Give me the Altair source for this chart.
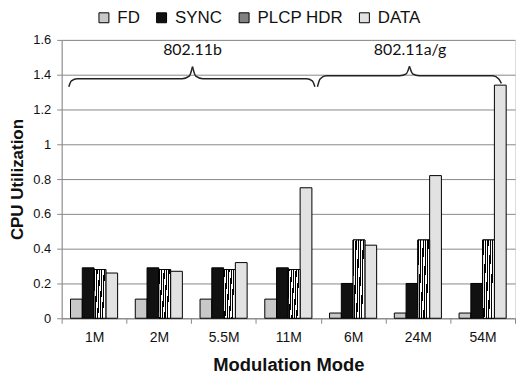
import altair as alt
import pandas as pd

modes = ["1M", "2M", "5.5M", "11M", "6M", "24M", "54M"]
series = ["FD", "SYNC", "PLCP HDR", "DATA"]
fd = [0.11, 0.11, 0.11, 0.11, 0.03, 0.03, 0.03]
sync = [0.29, 0.29, 0.29, 0.29, 0.20, 0.20, 0.20]
plcp = [0.28, 0.28, 0.28, 0.28, 0.45, 0.45, 0.45]
data_v = [0.26, 0.27, 0.32, 0.75, 0.42, 0.82, 1.34]

groups = ["802.11b", "802.11a/g"]
group_x = [2.02, 5.38]
group_y = [1.54, 1.54]

# brace outlines (x in category units 0..7, y in utilization units)
brace_x = [
    [0.11, 0.15, 0.24, 1.86, 1.97, 2.02],
    [2.02, 2.07, 2.18, 3.78, 3.87, 3.91],
    [3.95, 3.99, 4.08, 5.22, 5.32, 5.37],
    [5.37, 5.42, 5.52, 6.66, 6.75, 6.79],
]
brace_y = [
    [1.331, 1.365, 1.377, 1.377, 1.392, 1.446],
    [1.446, 1.392, 1.377, 1.377, 1.365, 1.331],
    [1.331, 1.375, 1.394, 1.394, 1.405, 1.448],
    [1.448, 1.405, 1.394, 1.394, 1.375, 1.35],
]

rows = []
for s, vals in zip(series, [fd, sync, plcp, data_v]):
    for m, v in zip(modes, vals):
        rows.append({"mode": m, "series": s, "value": v})
df = pd.DataFrame(rows)

brows = []
for i, (xs, ys) in enumerate(zip(brace_x, brace_y)):
    for j, (x, y) in enumerate(zip(xs, ys)):
        brows.append({"seg": i, "order": j, "bx": x, "by": y})
bdf = pd.DataFrame(brows)

ldf = pd.DataFrame({"label": groups, "lx": group_x, "ly": group_y})

FONT = "Liberation Sans"

yscale = alt.Scale(domain=[0, 1.6], nice=False)
yaxis = alt.Axis(title="CPU Utilization", values=[0, 0.2, 0.4, 0.6, 0.8, 1.0, 1.2, 1.4, 1.6],
                 format="~g", labelFontSize=13, labelFont=FONT, labelColor="#111",
                 titleFontSize=17, titleFont=FONT, titleFontWeight="bold",
                 titleColor="#111", tickSize=5, labelPadding=6, titlePadding=6,
                 grid=True, labelOverlap=False,
                 gridColor="#888", domainColor="#888", tickColor="#888")
xaxis = alt.Axis(title="Modulation Mode", labelAngle=0, tickBand="extent",
                 labelFontSize=14, labelFont=FONT, labelColor="#111",
                 titleFontSize=18.5, titleFont=FONT, titleFontWeight="bold",
                 titleColor="#111", labelPadding=7, tickSize=5, grid=False,
                 domainColor="#888", tickColor="#888", titlePadding=12)
xscale = alt.Scale(paddingInner=0, paddingOuter=0)


def xband():
    return alt.X("mode:N", sort=modes, scale=xscale, axis=xaxis)


def yq(field):
    return alt.Y(field, scale=yscale, axis=yaxis)


xoff = alt.XOffset("series:N", sort=series,
                   scale=alt.Scale(domain=series, paddingInner=0, paddingOuter=0.75))

bars = alt.Chart(df).mark_bar(stroke="black", strokeWidth=1).encode(
    x=xband(), xOffset=xoff, y=yq("value:Q"),
    fill=alt.Fill("series:N", sort=series,
                  scale=alt.Scale(domain=series, range=["#c8c8c8", "#111111", "#808080", "#e2e2e2"]),
                  legend=alt.Legend(title=None, orient="none", legendX=34, legendY=-31,
                                    direction="horizontal", symbolType="square", symbolSize=100,
                                    symbolStrokeColor="black", symbolStrokeWidth=1,
                                    labelFontSize=17, labelFont=FONT, labelColor="#111",
                                    columnPadding=13, labelOffset=5)),
)

stripes = {"gradient": "linear", "x1": 0, "y1": 0, "x2": 1, "y2": 0.15, "stops": []}
n = 5
for k in range(n):
    a = k / n
    b = (k + 0.5) / n
    c = (k + 1) / n
    stripes["stops"] += [
        {"offset": a, "color": "#000000"}, {"offset": b, "color": "#000000"},
        {"offset": b, "color": "#ffffff"}, {"offset": c, "color": "#ffffff"},
    ]

plcp_overlay = alt.Chart(df).transform_filter(alt.datum.series == "PLCP HDR").mark_bar(
    stroke="black", strokeWidth=1).encode(
    x=xband(),
    xOffset=xoff,
    y=yq("value:Q"),
    fill=alt.value(stripes),
)

bar_layer = alt.layer(bars, plcp_overlay)

bxs = alt.Scale(domain=[0, 7], nice=False, zero=False)
braces = alt.Chart(bdf).mark_line(color="#222", strokeWidth=1.5, interpolate="monotone").encode(
    x=alt.X("bx:Q", scale=bxs, axis=None),
    y=yq("by:Q"),
    detail="seg:N",
    order="order:Q",
)

labels = alt.Chart(ldf).mark_text(font="Lato", fontSize=16, color="#111").encode(
    x=alt.X("lx:Q", scale=bxs, axis=None),
    y=yq("ly:Q"),
    text="label:N",
)

chart = alt.layer(bar_layer, braces, labels).resolve_scale(x="independent").properties(
    width=456, height=280, padding={"left": 0, "top": 0, "right": 0, "bottom": 0}
).configure_view(stroke=None).configure(background="white")

chart.save("out.html", embed_options={"renderer": "svg", "actions": False})
